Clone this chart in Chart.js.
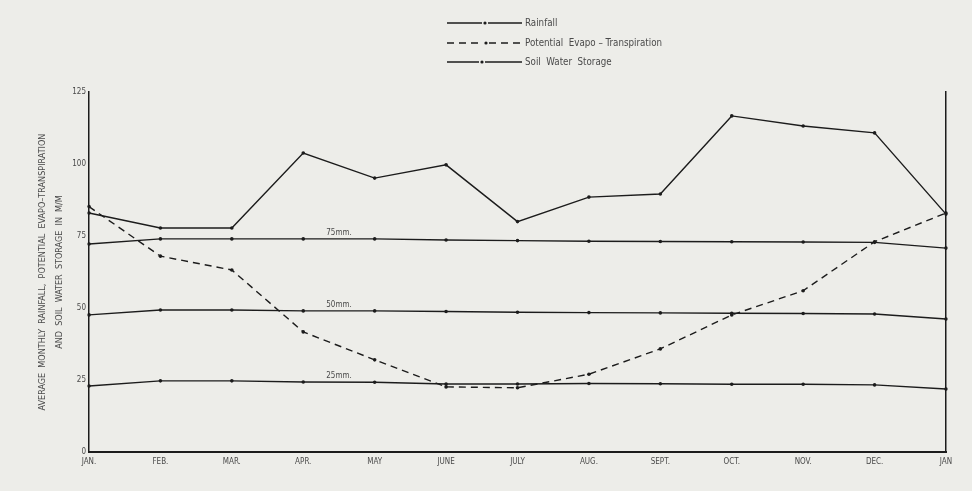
<!DOCTYPE html>
<html>
<head>
<meta charset="utf-8">
<script src="https://cdn.jsdelivr.net/npm/chart.js@4.4.1/dist/chart.umd.min.js"></script>
<style>
  html, body { margin: 0; padding: 0; background: #edede9; }
  #wrap { width: 972px; height: 491px; position: relative; }
</style>
</head>
<body>
<div id="wrap"><canvas id="c" width="972" height="491"></canvas></div>
<script>
// Monthly water balance: rainfall, potential evapo-transpiration and soil water storage (mm)
const months = ['JAN.', 'FEB.', 'MAR.', 'APR.', 'MAY', 'JUNE', 'JULY', 'AUG.', 'SEPT.', 'OCT.', 'NOV.', 'DEC.', 'JAN'];
const rainfall = [83, 77.8, 77.8, 103.8, 95.1, 99.7, 80, 88.5, 89.6, 116.7, 113.2, 110.8, 82.6];
const evapotranspiration = [85.2, 68, 63.2, 41.7, 32, 22.6, 22.3, 27, 35.8, 47.6, 56, 73, 83];
const storage75 = [72.2, 74, 74, 74, 74, 73.6, 73.4, 73.2, 73.1, 73, 72.9, 72.8, 70.8];
const storage50 = [47.6, 49.3, 49.3, 49, 49, 48.8, 48.5, 48.4, 48.3, 48.2, 48.1, 47.9, 46.2];
const storage25 = [22.9, 24.7, 24.7, 24.3, 24.2, 23.6, 23.6, 23.8, 23.7, 23.5, 23.5, 23.3, 21.9];
const yTicks = [0, 25, 50, 75, 100, 125];
const storageLabels = ['75mm.', '50mm.', '25mm.'];
const legendLabels = ['Rainfall', 'Potential  Evapo \u2013 Transpiration', 'Soil  Water  Storage'];
const yTitle = ['AVERAGE  MONTHLY  RAINFALL,  POTENTIAL  EVAPO\u2013TRANSPIRATION', 'AND  SOIL  WATER  STORAGE  IN  M/M'];

const INK = '#1c1c1c';
const TEXT = '#4a4a4a';
const FONT = '"DejaVu Sans Condensed", "Liberation Sans Narrow", "DejaVu Sans", sans-serif';

function lineSet(label, data, dashed) {
  return {
    label, data,
    borderColor: INK,
    backgroundColor: INK,
    borderWidth: 1.4,
    borderDash: dashed ? [7, 5] : [],
    pointRadius: 1.8,
    pointHoverRadius: 1.8,
    pointBorderWidth: 0,
    pointBackgroundColor: INK,
    tension: 0,
    fill: false
  };
}

// Labels for the storage curves plus the key at the top of the page
const annotate = {
  id: 'annotate',
  afterDatasetsDraw(chart) {
    const ctx = chart.ctx;
    const x = chart.scales.x, y = chart.scales.y;
    ctx.save();
    ctx.fillStyle = TEXT;
    ctx.font = '8px ' + FONT;
    ctx.textAlign = 'center';
    ctx.textBaseline = 'bottom';
    [storage75, storage50, storage25].forEach((d, i) => {
      const px = x.getPixelForValue(3.5);
      const py = y.getPixelForValue((d[3] + d[4]) / 2) - 2;
      ctx.fillText(storageLabels[i], px, py);
    });

    // key
    const rows = [
      { y: 23, dash: [], label: legendLabels[0], dot: 485 },
      { y: 43, dash: [7, 5], label: legendLabels[1], dot: 486 },
      { y: 62, dash: [], label: legendLabels[2], dot: 482 }
    ];
    rows.forEach(r => {
      ctx.strokeStyle = INK;
      ctx.lineWidth = 1.4;
      ctx.setLineDash(r.dash);
      ctx.beginPath();
      ctx.moveTo(447, r.y);
      ctx.lineTo(r.dot - 3, r.y);
      ctx.moveTo(r.dot + 3, r.y);
      ctx.lineTo(522, r.y);
      ctx.stroke();
      ctx.setLineDash([]);
      ctx.beginPath();
      ctx.arc(r.dot, r.y, 1.6, 0, Math.PI * 2);
      ctx.fillStyle = INK;
      ctx.fill();
      ctx.save();
      ctx.translate(525, r.y);
      ctx.scale(0.97, 1);
      ctx.fillStyle = TEXT;
      ctx.font = '10px ' + FONT;
      ctx.textAlign = 'left';
      ctx.textBaseline = 'middle';
      ctx.fillText(r.label, 0, 0);
      ctx.restore();
    });
    ctx.restore();
  }
};

new Chart(document.getElementById('c'), {
  type: 'line',
  data: {
    labels: months,
    datasets: [
      lineSet('Rainfall', rainfall, false),
      lineSet('Potential Evapo-Transpiration', evapotranspiration, true),
      lineSet('Soil Water Storage 75mm', storage75, false),
      lineSet('Soil Water Storage 50mm', storage50, false),
      lineSet('Soil Water Storage 25mm', storage25, false)
    ]
  },
  options: {
    responsive: false,
    animation: false,
    events: [],
    layout: { padding: { left: 0, right: 26, top: 92, bottom: 0 } },
    plugins: { legend: { display: false }, tooltip: { enabled: false }, title: { display: false } },
    scales: {
      x: {
        type: 'category',
        offset: false,
        grid: { display: false, drawTicks: false },
        border: { display: true, color: INK, width: 2 },
        ticks: {
          color: TEXT, font: { family: FONT, size: 8 }, padding: 5,
          maxRotation: 0, autoSkip: false
        },
        afterFit(s) { s.height = 39; }
      },
      y: {
        min: 0, max: 125,
        afterBuildTicks(s) { s.ticks = yTicks.map(v => ({ value: v })); },
        grid: { display: false, drawTicks: false },
        border: { display: true, color: INK, width: 1.5 },
        ticks: { color: TEXT, font: { family: FONT, size: 8 }, padding: 3 },
        title: {
          display: true,
          text: yTitle,
          color: TEXT,
          font: { family: FONT, size: 9, lineHeight: 1.9 },
          padding: { top: 34.5, bottom: 0 }
        },
        afterFit(s) { s.width = 89; }
      },
      yRight: {
        position: 'right',
        min: 0, max: 125,
        grid: { display: false, drawTicks: false, drawOnChartArea: false },
        border: { display: true, color: INK, width: 1.5 },
        ticks: { display: false },
        afterFit(s) { s.width = 0; }
      }
    }
  },
  plugins: [annotate]
});
</script>
</body>
</html>
